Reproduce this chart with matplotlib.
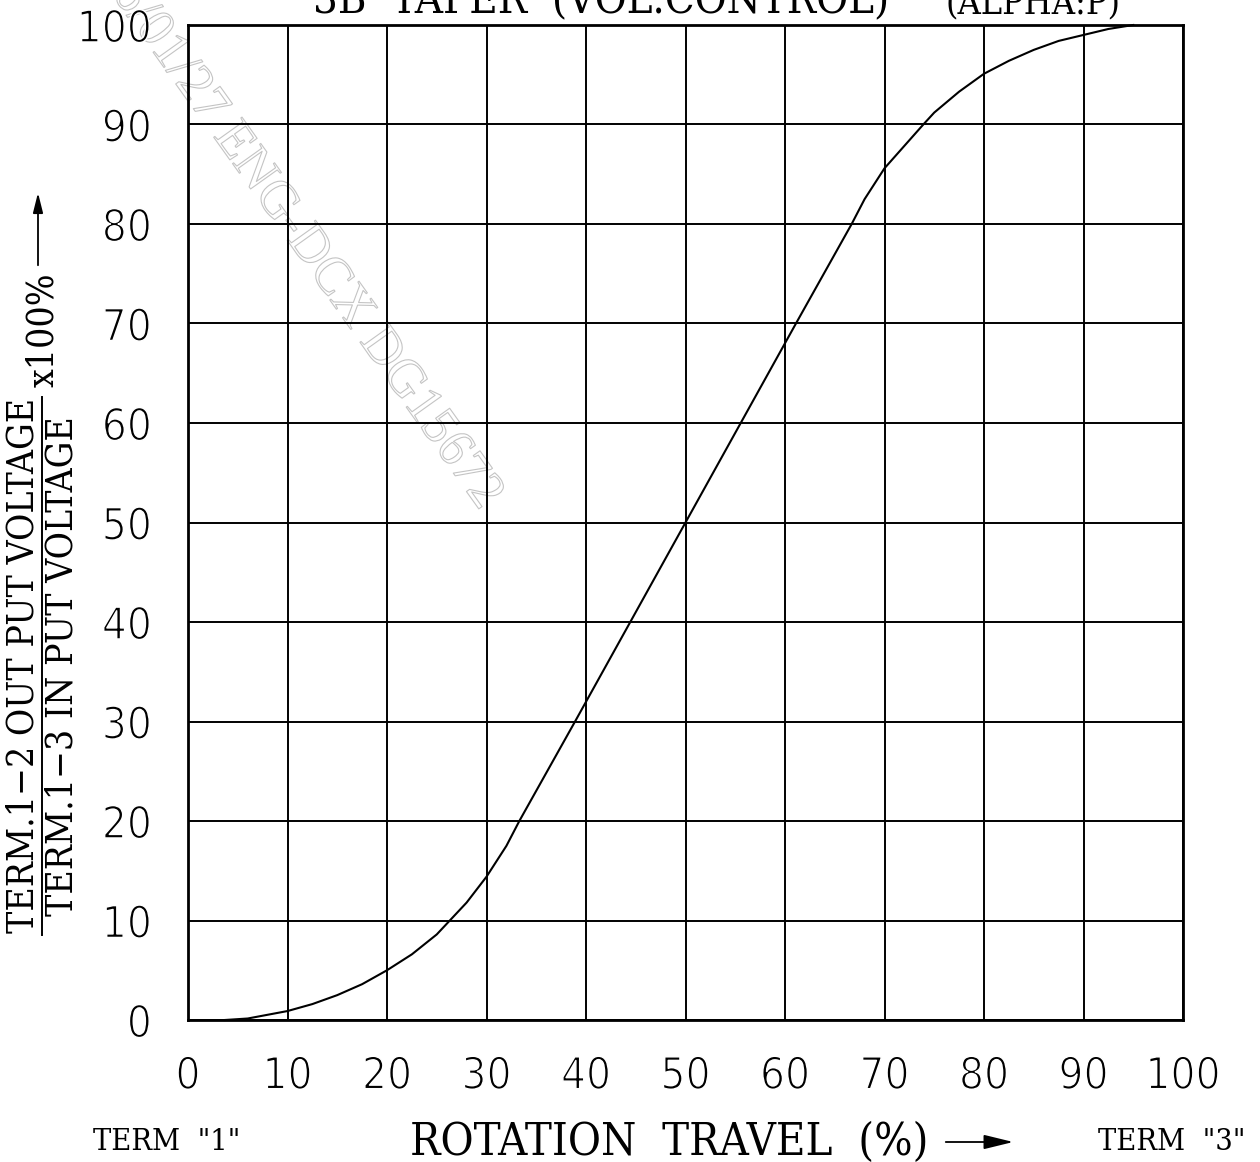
import os
import matplotlib
matplotlib.use('Agg')
import matplotlib.pyplot as plt
import matplotlib.patheffects as pe
from matplotlib import font_manager as fm
from matplotlib.font_manager import FontProperties
from matplotlib.patches import FancyArrowPatch
from matplotlib.lines import Line2D

# ---- data ----
travel = [3.7, 6, 10, 12.5, 15, 17.5, 20, 22.5, 25, 28, 30, 32, 33.3, 38.9,
          50, 61.1, 66.7, 68, 70, 73.9, 75, 77.5, 80, 82.5, 85, 87.5, 90, 92.5, 95]
output = [0, 0.15, 0.9, 1.6, 2.5, 3.6, 5.0, 6.6, 8.6, 11.8, 14.4, 17.5, 20, 30,
          50, 70, 80, 82.5, 85.6, 90, 91.2, 93.3, 95.1, 96.4, 97.5, 98.4, 99.0, 99.6, 100]
x_ticks = list(range(0, 101, 10))
y_ticks = list(range(0, 101, 10))
x_tick_labels = [str(v) for v in x_ticks]
y_tick_labels = [str(v) for v in y_ticks]

W, H = 1260, 1162


# ---- font selection: a condensed sans for digits; a serif for text ----
def stretch_of(f):
    s = (os.path.basename(f.fname) + ' ' + f.name).lower().replace(' ', '').replace('-', '')
    if 'ultracondensed' in s:
        return 50
    if 'extracondensed' in s:
        return 62.5
    if 'semicondensed' in s:
        return 87.5
    if 'condensed' in s or 'narrow' in s:
        return 75
    return 100


def weight_of(f):
    try:
        return int(f.weight)
    except Exception:
        return {'light': 300, 'normal': 400, 'regular': 400, 'medium': 500,
                'bold': 700}.get(str(f.weight).lower(), 400)


def pick(names, tstretch, tweight, fallback):
    best, bscore = None, None
    for f in fm.fontManager.ttflist:
        if f.name not in names or f.style != 'normal':
            continue
        if not f.fname.lower().endswith(('.ttf', '.otf')):
            continue
        sc = abs(stretch_of(f) - tstretch) * 2 + abs(weight_of(f) - tweight) / 10 + names.index(f.name) * 3
        if bscore is None or sc < bscore:
            best, bscore = f.fname, sc
    return best if best else fm.findfont(FontProperties(family=fallback))


SANS_FILE = pick(['Noto Sans', 'Liberation Sans Narrow', 'DejaVu Sans', 'Roboto', 'Open Sans', 'Lato', 'Inter'],
                 75, 250, 'DejaVu Sans')
SERIF_FILE = pick(['Noto Serif', 'Liberation Serif', 'DejaVu Serif'], 75, 400, 'Liberation Serif')
WM_FILE = fm.findfont(FontProperties(family='Liberation Serif'))


def fx(x):
    return x / W


def fy(y):
    return 1 - y / H


fig = plt.figure(figsize=(W / 100, H / 100), dpi=100)
fig.patch.set_facecolor('white')
renderer = fig.canvas.get_renderer()


def fit(path, text, target_px, base=40.0):
    t = fig.text(0, 0, text, fontproperties=FontProperties(fname=path, size=base))
    w = t.get_window_extent(renderer).width
    t.remove()
    return base * target_px / w


def fp(path, size):
    return FontProperties(fname=path, size=size)


ax = fig.add_axes([fx(188), fy(1020), 995 / W, 995 / H])
ax.set_facecolor('none')

ax.plot(travel, output, color='black', lw=1.5, zorder=3, clip_on=False)

tick_size = fit(SANS_FILE, '100', 75)
thin = [pe.Stroke(linewidth=1.1, foreground='white')]
ax.set_xlim(0, 100)
ax.set_ylim(0, 100)
ax.set_xticks(x_ticks)
ax.set_yticks(y_ticks)
ax.set_xticklabels(x_tick_labels, fontproperties=fp(SANS_FILE, tick_size))
ax.set_yticklabels(y_tick_labels, fontproperties=fp(SANS_FILE, tick_size))
for lab in ax.get_xticklabels() + ax.get_yticklabels():
    lab.set_path_effects(thin)
ax.tick_params(axis='both', length=0)
ax.tick_params(axis='x', pad=25)
ax.tick_params(axis='y', pad=26)
ax.grid(True, color='black', lw=1.4)
for s in ax.spines.values():
    s.set_linewidth(2.0)

# watermark
wm_text = '2016/01/27 ENG-DCX DG15672'
fig.text(fx(283), fy(212), wm_text, rotation=-54.5, rotation_mode='anchor',
         ha='center', va='center', fontproperties=fp(WM_FILE, fit(WM_FILE, wm_text, 715)),
         color='none', zorder=-1,
         path_effects=[pe.Stroke(linewidth=0.8, foreground='#c4c4c4')])

# title
t1 = '3B  TAPER  (VOL.CONTROL)'
t2 = '(ALPHA:P)'
fig.text(fx(313), fy(13), t1, ha='left', va='baseline',
         fontproperties=fp(SERIF_FILE, fit(SERIF_FILE, t1, 577)))
fig.text(fx(945), fy(13), t2, ha='left', va='baseline',
         fontproperties=fp(SERIF_FILE, fit(SERIF_FILE, t2, 175)))

# y label as a fraction
num = 'TERM.1\u22122 OUT PUT VOLTAGE'
den = 'TERM.1\u22123 IN PUT VOLTAGE'
ysize = fit(SERIF_FILE, num, 535)
fig.text(fx(24), fy(665), num, rotation=90, rotation_mode='anchor',
         ha='center', va='center', fontproperties=fp(SERIF_FILE, ysize))
fig.text(fx(63), fy(666), den, rotation=90, rotation_mode='anchor',
         ha='center', va='center', fontproperties=fp(SERIF_FILE, ysize))
fig.add_artist(Line2D([fx(42), fx(42)], [fy(935), fy(397)], color='black', lw=1.4,
                      transform=fig.transFigure))
fig.text(fx(43), fy(330), 'x100%', rotation=90, rotation_mode='anchor',
         ha='center', va='center', fontproperties=fp(SERIF_FILE, ysize))
fig.add_artist(FancyArrowPatch((fx(38), fy(268)), (fx(38), fy(190)),
                               transform=fig.transFigure,
                               arrowstyle='-|>,head_length=0.6,head_width=0.15',
                               mutation_scale=20, lw=1.3, color='black'))

# x label
xl = 'ROTATION  TRAVEL  (%)'
fig.text(fx(410), fy(1142), xl, ha='left', va='center',
         fontproperties=fp(SERIF_FILE, fit(SERIF_FILE, xl, 518)))
fig.add_artist(FancyArrowPatch((fx(943), fy(1142)), (fx(1016), fy(1142)),
                               transform=fig.transFigure,
                               arrowstyle='-|>,head_length=0.9,head_width=0.22',
                               mutation_scale=20, lw=1.3, color='black'))
term_size = fit(SERIF_FILE, 'TERM  "1"', 147)
fig.text(fx(93), fy(1142), 'TERM  "1"', ha='left', va='center', fontproperties=fp(SERIF_FILE, term_size))
fig.text(fx(1098), fy(1142), 'TERM  "3"', ha='left', va='center', fontproperties=fp(SERIF_FILE, term_size))

fig.savefig('out.png', dpi=100)
